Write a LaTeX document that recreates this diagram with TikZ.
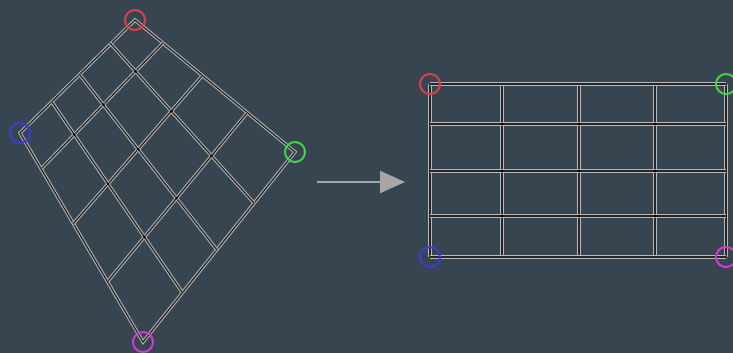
\documentclass[tikz,border=0pt]{standalone}
\usepackage{tikz}
\usetikzlibrary{arrows.meta}
\definecolor{slate}{RGB}{54,69,79}
\definecolor{ringred}{RGB}{222,62,72}
\definecolor{ringgreen}{RGB}{70,210,70}
\definecolor{ringblue}{RGB}{60,60,215}
\definecolor{ringpink}{RGB}{205,60,205}
\begin{document}
\begin{tikzpicture}[x=1pt,y=-1pt,
    gridline/.style={draw=black!85,line width=1.3pt,
                     preaction={draw=gray!55!white,line width=3.3pt}},
    ring/.style={circle,draw=#1,line width=2pt,minimum size=20pt,inner sep=0pt},
    knot/.style={fill=black,circle,inner sep=0pt,minimum size=3pt}]
  \fill[slate] (0,0) rectangle (733,353);
  \useasboundingbox (0,0) rectangle (733,353);

  % warped grid
  \coordinate (R) at (135,20);
  \coordinate (G) at (295,152);
  \coordinate (B) at (20,133);
  \coordinate (M) at (143,342);
  \coordinate (t1) at (163,43);  \coordinate (t2) at (202,76);  \coordinate (t3) at (247,113);
  \coordinate (l1) at (110,43);  \coordinate (l2) at (80,75);   \coordinate (l3) at (52,102);
  \coordinate (b1) at (42,168);  \coordinate (b2) at (73,224);  \coordinate (b3) at (108,281);
  \coordinate (r1) at (254,203); \coordinate (r2) at (217,250); \coordinate (r3) at (182,292);

  \draw[gridline] (R) -- (G) -- (M) -- (B) -- cycle;
  \foreach \i in {1,2,3} {
    \draw[gridline] (t\i) -- (b\i);
    \draw[gridline] (l\i) -- (r\i);
  }
  \foreach \px/\py in {135.5/71.4,103.3/104.7,74.3/134.6,171.3/111.2,138.1/149.3,
                       108/183.9,211.5/155.8,176.5/198.2,144.4/237}
    \node[knot] at (\px,\py) {};

  % straight grid
  \foreach \x in {430,502,579,655,726}
    \draw[gridline] (\x,84) -- (\x,257);
  \foreach \y in {84,124,171,216,257}
    \draw[gridline] (430,\y) -- (726,\y);
  \foreach \x in {502,579,655}
    \foreach \y in {124,171,216}
      \node[knot] at (\x,\y) {};

  % corner markers
  \node[ring=ringred]   (redA)   at (R) {};
  \node[ring=ringgreen] (greenA) at (G) {};
  \node[ring=ringblue]  (blueA)  at (B) {};
  \node[ring=ringpink]  (pinkA)  at (M) {};
  \node[ring=ringred]   (redB)   at (430,84) {};
  \node[ring=ringgreen] (greenB) at (726,84) {};
  \node[ring=ringblue]  (blueB)  at (430,257) {};
  \node[ring=ringpink]  (pinkB)  at (726,257) {};

  \coordinate (from) at (317,182);
  \coordinate (to) at (405,182);
  \draw[-{Triangle[length=25pt,width=22pt]},line width=2.4pt,gray!70!white] (from) -- (to);
\end{tikzpicture}
\end{document}
